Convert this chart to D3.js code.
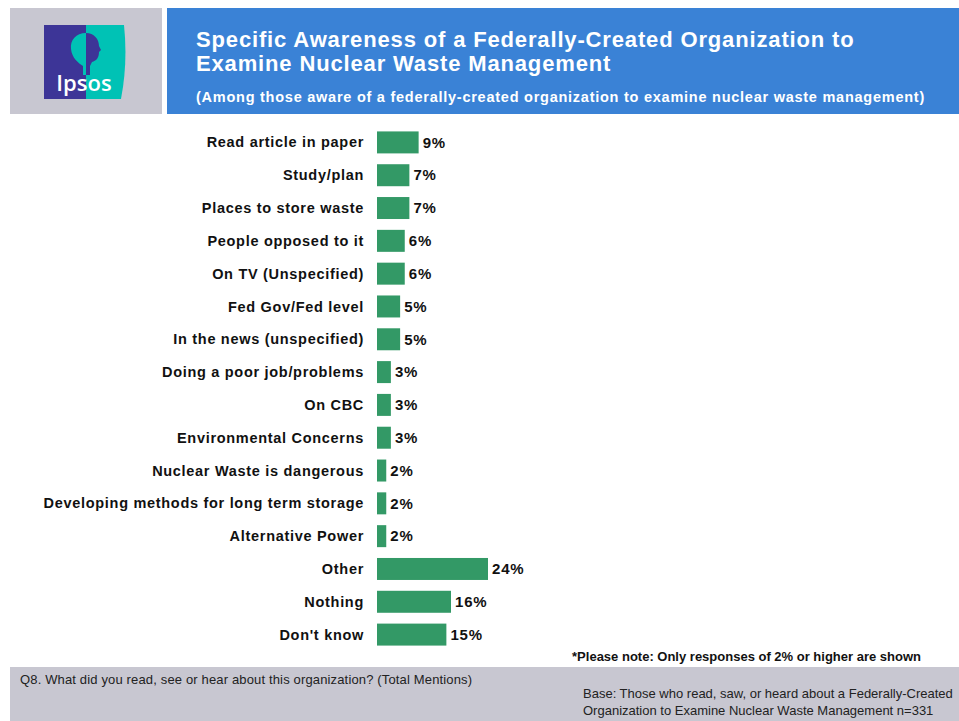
<!DOCTYPE html>
<html><head><meta charset="utf-8">
<script src="https://cdn.jsdelivr.net/npm/d3@7"></script>
<style>body{margin:0;background:#fff}svg{display:block}</style>
</head><body>
<script>
const categories = ["Read article in paper","Study/plan","Places to store waste","People opposed to it","On TV (Unspecified)","Fed Gov/Fed level","In the news (unspecified)","Doing a poor job/problems","On CBC","Environmental Concerns","Nuclear Waste is dangerous","Developing methods for long term storage","Alternative Power","Other","Nothing","Don't know"];
const values = [9,7,7,6,6,5,5,3,3,3,2,2,2,24,16,15];
const valueLabels = values.map(v => v + "%");

const W = 959, H = 721;
const svg = d3.select("body").append("svg").attr("width", W).attr("height", H);
const font = "Liberation Sans, Arial, sans-serif";

// header boxes
svg.append("rect").attr("x",10).attr("y",8).attr("width",152).attr("height",106).attr("fill","#c8c7d1");
svg.append("rect").attr("x",167).attr("y",8).attr("width",792).attr("height",106).attr("fill","#3a82d6");

// logo
const lg = svg.append("g");
lg.append("defs").append("clipPath").attr("id","lclip").append("path").attr("d","M44,25 L124,25 Q128,62 121,99 L44,99 Z");
const lc = lg.append("g").attr("clip-path","url(#lclip)");
lc.append("rect").attr("x",44).attr("y",25).attr("width",86).attr("height",75).attr("fill","#00c2b5");
lc.append("rect").attr("x",44).attr("y",25).attr("width",42).attr("height",75).attr("fill","#3d3597");
lc.append("path").attr("d","M86,33 C76,33 70,40 71,49 C72,58 78,62 80,64 L83,66 L83,75 L86,75 Z").attr("fill","#00c2b5");
lc.append("path").attr("d","M86,33 C94,33 99,39 99,46 L101,50 L99,52 C99,58 96,61 92,62 L90,66 L90,75 L86,75 Z").attr("fill","#3d3597");
lg.append("text").attr("x",84).attr("y",91).attr("text-anchor","middle").attr("fill","#fff")
  .attr("font-family","Open Sans, Liberation Sans, sans-serif").attr("font-size",22).attr("font-weight","600").text("Ipsos");

// titles
const tStyle = s => s.attr("fill","#fff").attr("font-family",font).attr("font-weight","bold");
tStyle(svg.append("text").attr("x",196).attr("y",47)).attr("font-size",22).attr("letter-spacing",0.85)
  .text("Specific Awareness of a Federally-Created Organization to");
tStyle(svg.append("text").attr("x",196).attr("y",71)).attr("font-size",22).attr("letter-spacing",0.85)
  .text("Examine Nuclear Waste Management");
tStyle(svg.append("text").attr("x",196).attr("y",102)).attr("font-size",14.5).attr("letter-spacing",0.75)
  .text("(Among those aware of a federally-created organization to examine nuclear waste management)");

// chart
const x0 = 377;
const x = d3.scaleLinear().domain([0,24]).range([x0, x0+111]);
const y = d3.scaleBand().domain(categories).range([126, 651]).paddingInner(0.33).paddingOuter(0.165);

const g = svg.append("g");
g.selectAll("rect.bar").data(categories).join("rect").attr("class","bar")
  .attr("x", x0).attr("y", d => y(d)).attr("width", (d,i) => x(values[i]) - x0).attr("height", y.bandwidth())
  .attr("fill","#339966");
g.selectAll("text.cat").data(categories).join("text").attr("class","cat")
  .attr("x", 364).attr("y", d => y(d) + y.bandwidth()/2).attr("dy","0.35em").attr("text-anchor","end")
  .attr("font-family",font).attr("font-weight","bold").attr("font-size",14.5).attr("letter-spacing",0.7).attr("fill","#111").text(d => d);
g.selectAll("text.val").data(categories).join("text").attr("class","val")
  .attr("x", (d,i) => x(values[i]) + 4).attr("y", d => y(d) + y.bandwidth()/2).attr("dy","0.35em")
  .attr("font-family",font).attr("font-weight","bold").attr("font-size",15).attr("letter-spacing",0.8).attr("fill","#111").text((d,i) => valueLabels[i]);

// note
svg.append("text").attr("x",921).attr("y",661).attr("text-anchor","end").attr("font-family",font).attr("font-weight","bold").attr("font-size",13).attr("fill","#111")
  .text("*Please note: Only responses of 2%  or higher are shown");

// footer
svg.append("rect").attr("x",10).attr("y",667).attr("width",949).attr("height",54).attr("fill","#c8c7d1");
svg.append("text").attr("x",20).attr("y",684).attr("font-family",font).attr("font-size",13).attr("letter-spacing",0.15).attr("fill","#222")
  .text("Q8. What did you read, see or hear about this organization? (Total Mentions)");
svg.append("text").attr("x",583).attr("y",698).attr("font-family",font).attr("font-size",13).attr("fill","#222")
  .text("Base:  Those who read, saw, or heard about a Federally-Created");
svg.append("text").attr("x",583).attr("y",715).attr("font-family",font).attr("font-size",13).attr("fill","#222")
  .text("Organization to Examine Nuclear Waste Management n=331");
</script>
</body></html>
